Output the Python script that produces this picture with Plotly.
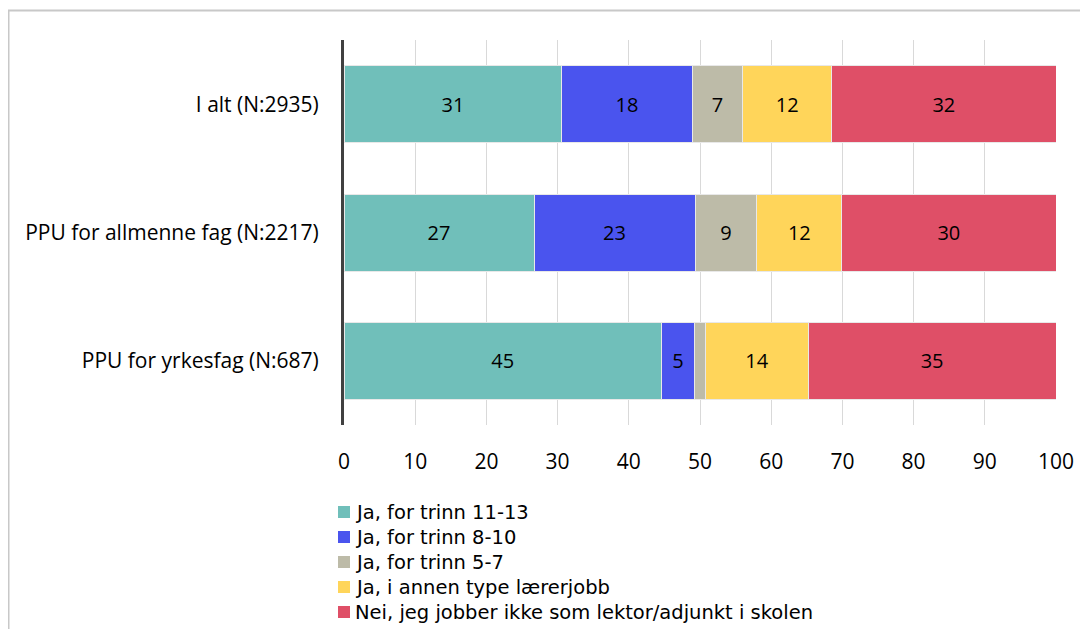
import plotly.graph_objects as go

categories = ["I alt (N:2935)", "PPU for allmenne fag (N:2217)", "PPU for yrkesfag (N:687)"]
series_names = ["Ja, for trinn 11-13", "Ja, for trinn 8-10", "Ja, for trinn 5-7",
                "Ja, i annen type lærerjobb", "Nei, jeg jobber ikke som lektor/adjunkt i skolen"]
trinn_11_13 = [30.6, 26.7, 44.6]
trinn_8_10 = [18.3, 22.6, 4.6]
trinn_5_7 = [7.1, 8.7, 1.6]
annen_jobb = [12.5, 11.9, 14.4]
nei = [31.5, 30.1, 34.8]
colors = ["#70BFBA", "#4A54EE", "#BDBBA8", "#FFD55A", "#DF4F67"]
x_ticks = list(range(0, 101, 10))

FONT = "Open Sans"
LEGEND_FONT = "DejaVu Sans"
# figure geometry (page body adds an 8px offset)
ML, MR, MT, MB = 336, 40, 32, 212
PW = 1088 - ML - MR
PH = 629 - MT - MB


def px(xp):
    return (xp - 8 - ML) / PW


def py(yp):
    return (629 - MB - (yp - 8)) / PH


fig = go.Figure()
for name, vals, col in zip(series_names, [trinn_11_13, trinn_8_10, trinn_5_7, annen_jobb, nei], colors):
    labels = [str(round(v)) if v >= 3 else "" for v in vals]
    fig.add_trace(go.Bar(
        y=categories, x=vals, name=name, orientation="h",
        marker=dict(color=col, line=dict(color="#E8E8E8", width=1)),
        text=labels, textposition="inside", insidetextanchor="middle",
        textfont=dict(color="black", size=20, family=FONT),
        width=0.6, hoverinfo="x+name", showlegend=False,
    ))

# legend drawn as text + swatches
annotations = []
shapes = [dict(type="rect", xref="paper", yref="paper",
               x0=px(8.5), x1=px(1200), y0=py(900), y1=py(10.5),
               line=dict(color="#C8C8C8", width=2), fillcolor="rgba(0,0,0,0)", layer="below")]
for i, (name, col) in enumerate(zip(series_names, colors)):
    yc = 512 + 25 * i
    shapes.append(dict(type="rect", xref="paper", yref="paper",
                       x0=px(338), x1=px(350), y0=py(yc + 6), y1=py(yc - 6),
                       line=dict(width=0), fillcolor=col))
    annotations.append(dict(xref="paper", yref="paper", x=px(354), y=py(yc),
                            xanchor="left", yanchor="middle", showarrow=False, borderpad=0,
                            text=name, font=dict(size=19.5, family=LEGEND_FONT, color="black")))

fig.update_layout(
    barmode="stack",
    width=1088, height=629,
    margin=dict(l=ML, r=MR, t=MT, b=MB, autoexpand=False),
    paper_bgcolor="white", plot_bgcolor="white",
    font=dict(family=FONT, size=21, color="black"),
    showlegend=False,
    xaxis=dict(range=[0, 100], tickvals=x_ticks, showgrid=True, gridcolor="#D9D9D9",
               gridwidth=1, zeroline=False, showline=False, ticks="",
               tickfont=dict(size=21), ticklabelstandoff=22),
    yaxis=dict(categoryorder="array", categoryarray=categories, autorange="reversed",
               showline=True, linecolor="#404040", linewidth=3, ticks="",
               tickfont=dict(size=21), ticklabelstandoff=18),
    shapes=shapes,
    annotations=annotations,
)
fig.write_html("out.html")
